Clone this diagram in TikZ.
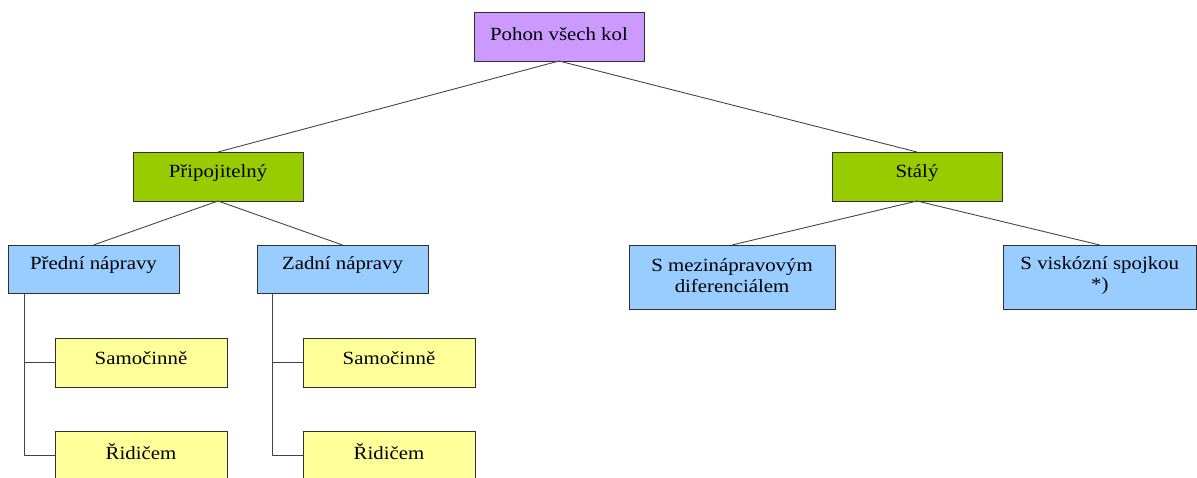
\documentclass[tikz,border=0pt]{standalone}
\usepackage{fontspec}
\setmainfont{Liberation Serif}
\definecolor{cpurple}{HTML}{CC99FF}
\definecolor{cgreen}{HTML}{99CC00}
\definecolor{cblue}{HTML}{99CCFF}
\definecolor{cyellow}{HTML}{FFFF99}
\definecolor{cedge}{HTML}{303030}
\begin{document}
\begin{tikzpicture}[x=1pt,y=-1pt,
  box/.style={draw=cedge, line width=0.9pt, inner sep=0pt, outer sep=0pt},
  txt/.style={font=\fontsize{18.6}{21}\selectfont, align=center, inner sep=0pt, xscale=1.12, transform shape},
  conn/.style={draw=cedge!90, line width=0.9pt}]
\useasboundingbox (0,0) rectangle (1197,477);
\clip (0,0) rectangle (1197,477);
% boxes
\node[box, fill=cpurple, minimum width=170pt, minimum height=49pt] (top) at (559,36.5) {};
\node[box, fill=cgreen, minimum width=170pt, minimum height=49pt] (prip) at (218,176.5) {};
\node[box, fill=cgreen, minimum width=170pt, minimum height=49pt] (staly) at (917,176.5) {};
\node[box, fill=cblue, minimum width=171pt, minimum height=48pt] (pred) at (93.5,269) {};
\node[box, fill=cblue, minimum width=171pt, minimum height=48pt] (zad) at (342.5,269) {};
\node[box, fill=cyellow, minimum width=172pt, minimum height=49pt] (sam1) at (141,362.5) {};
\node[box, fill=cyellow, minimum width=172pt, minimum height=49pt] (rid1) at (141,455.5) {};
\node[box, fill=cyellow, minimum width=172pt, minimum height=49pt] (sam2) at (389,362.5) {};
\node[box, fill=cyellow, minimum width=172pt, minimum height=49pt] (rid2) at (389,455.5) {};
\node[box, fill=cblue, minimum width=206pt, minimum height=64pt] (mezi) at (732,277) {};
\node[box, fill=cblue, minimum width=193pt, minimum height=64pt] (visk) at (1099.75,277) {};
% texts
\node[txt] (topt) at ([yshift=2pt]top.center) {Pohon všech kol};
\node[txt] (pript) at ([yshift=3pt]prip.center) {Připojitelný};
\node[txt] (stalyt) at ([yshift=3pt]staly.center) {Stálý};
\node[txt] (predt) at ([yshift=4pt]pred.center) {Přední nápravy};
\node[txt] (zadt) at ([yshift=4pt]zad.center) {Zadní nápravy};
\node[txt] (sam1t) at ([yshift=4pt]sam1.center) {Samočinně};
\node[txt] (sam2t) at ([yshift=4pt]sam2.center) {Samočinně};
\node[txt] (rid1t) at ([yshift=4pt]rid1.center) {Řidičem};
\node[txt] (rid2t) at ([yshift=4pt]rid2.center) {Řidičem};
\node[txt] (mezit) at ([yshift=1pt]mezi.center) {S mezinápravovým\\diferenciálem};
\node[txt] (viskt) at ([yshift=1pt]visk.center) {S viskózní spojkou\\*)};
% connectors
\draw[conn] (top.south) -- (prip.north);
\draw[conn] (top.south) -- (staly.north);
\draw[conn] (prip.south) -- (pred.north);
\draw[conn] (prip.south) -- (zad.north);
\draw[conn] (staly.south) -- (mezi.north);
\draw[conn] (staly.south) -- (visk.north);
\draw[conn] ([xshift=16pt]pred.south west) |- (sam1.west);
\draw[conn] ([xshift=16pt]pred.south west) |- (rid1.west);
\draw[conn] ([xshift=15pt]zad.south west) |- (sam2.west);
\draw[conn] ([xshift=15pt]zad.south west) |- (rid2.west);
\end{tikzpicture}
\end{document}
